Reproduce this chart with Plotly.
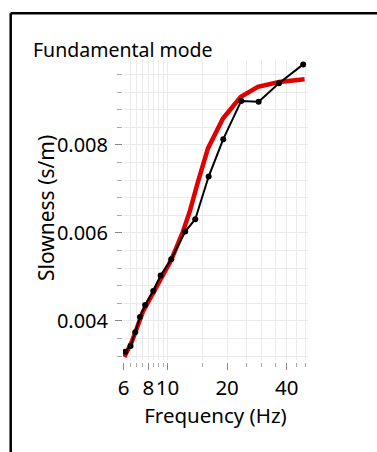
import math
import plotly.graph_objects as go

# ---- data ----
theory_freq = [6.04, 6.6, 7.5, 8.93, 10.43, 11.96, 12.93, 14.24, 16.0, 19.05, 23.4, 28.6, 36.6, 49.3]
theory_slow = [0.00318, 0.00353, 0.00421, 0.00481, 0.00538, 0.00603, 0.00648, 0.00716, 0.00792, 0.00860, 0.00909, 0.00932, 0.00943, 0.00949]

meas_freq = [6.11, 6.50, 6.86, 7.25, 7.70, 8.46, 9.22, 10.43, 12.28, 13.80, 16.13, 19.12, 23.57, 28.87, 36.58, 48.5]
meas_slow = [0.00330, 0.00343, 0.00374, 0.00409, 0.00436, 0.00468, 0.00503, 0.00540, 0.00603, 0.00631, 0.00728, 0.00813, 0.00900, 0.00898, 0.00940, 0.00983]

x_tick_vals = [6, 8, 10, 20, 40]
x_tick_text = ["6", "8", "10", "20", "40"]
x_minor_vals = [6.5, 7, 7.5, 8.5, 9, 9.5, 15, 25, 30, 35, 45, 50]
y_tick_vals = [0.004, 0.006, 0.008]
y_tick_text = ["0.004", "0.006", "0.008"]
y_minor_vals = [0.0032, 0.0036, 0.0044, 0.0048, 0.0052, 0.0056, 0.0064, 0.0068,
                0.0072, 0.0076, 0.0084, 0.0088, 0.0092, 0.0096]

title_text = "Fundamental mode"
x_title = "Frequency (Hz)"
y_title = "Slowness (s/m)"

FONT = "Noto Sans"
W, H = 377, 452
L, R, T, B = 122, 69, 60, 90
pw, ph = W - L - R, H - T - B

fig = go.Figure()
fig.add_trace(go.Scatter(x=theory_freq, y=theory_slow, mode="lines",
                         line=dict(color="#e00000", width=4.5), showlegend=False))
fig.add_trace(go.Scatter(x=meas_freq, y=meas_slow, mode="lines+markers",
                         line=dict(color="black", width=2),
                         marker=dict(color="black", size=6), showlegend=False))

grid = "#ebebeb"
fig.update_layout(
    width=W, height=H,
    margin=dict(l=L, r=R, t=T, b=B),
    paper_bgcolor="white", plot_bgcolor="white",
    font=dict(family=FONT, size=20, color="black"),
    title=dict(text=title_text, x=33 / W, xanchor="left", xref="container",
               y=1 - 50 / H, yanchor="middle", yref="container",
               font=dict(family=FONT, size=19.5, color="black")),
    xaxis=dict(type="log", range=[math.log10(5.95), math.log10(51.3)],
               domain=[1 / pw, 1], anchor="free", position=0,
               tickmode="array", tickvals=x_tick_vals, ticktext=x_tick_text,
               tickangle=0,
               ticks="outside", ticklen=7, tickcolor="#888", tickwidth=1,
               showgrid=True, gridcolor=grid, gridwidth=1,
               showline=False, zeroline=False,
               minor=dict(tickmode="array", tickvals=x_minor_vals, ticks="outside",
                          ticklen=4, tickcolor="#aaa", showgrid=True, gridcolor=grid),
               title=dict(text=x_title, font=dict(size=20.5), standoff=8),
               tickfont=dict(size=20.5)),
    yaxis=dict(range=[0.00311, 0.00993],
               domain=[2 / ph, 1], anchor="free", position=0,
               tickmode="array", tickvals=y_tick_vals, ticktext=y_tick_text,
               ticks="outside", ticklen=7, tickcolor="#888", tickwidth=1,
               ticklabelstandoff=3,
               showgrid=True, gridcolor=grid, gridwidth=1,
               showline=False, zeroline=False,
               minor=dict(tickmode="array", tickvals=y_minor_vals, ticks="outside",
                          ticklen=5, tickcolor="#aaa", showgrid=True, gridcolor=grid),
               tickfont=dict(size=20)),
)

# y-axis title placed as rotated text
fig.add_annotation(text=y_title, textangle=-90, showarrow=False,
                   xref="paper", yref="paper",
                   x=(46 - L) / pw, xanchor="center",
                   y=(T + ph - 208) / ph, yanchor="middle",
                   font=dict(family=FONT, size=21, color="black"))

# outer frame: only left and top edges fall inside the picture
fx0 = (10.7 - L) / pw
fy1 = (T + ph - 13.3) / ph
fig.add_shape(type="line", xref="paper", yref="paper",
              x0=fx0, x1=fx0, y0=(T + ph - 470) / ph, y1=fy1,
              line=dict(color="black", width=2.5), layer="above")
fig.add_shape(type="line", xref="paper", yref="paper",
              x0=fx0, x1=(390 - L) / pw, y0=fy1, y1=fy1,
              line=dict(color="black", width=2.5), layer="above")

fig.write_html("out.html", config={"displayModeBar": False},
               post_script="document.body.style.margin='0';document.body.style.overflow='hidden';")
